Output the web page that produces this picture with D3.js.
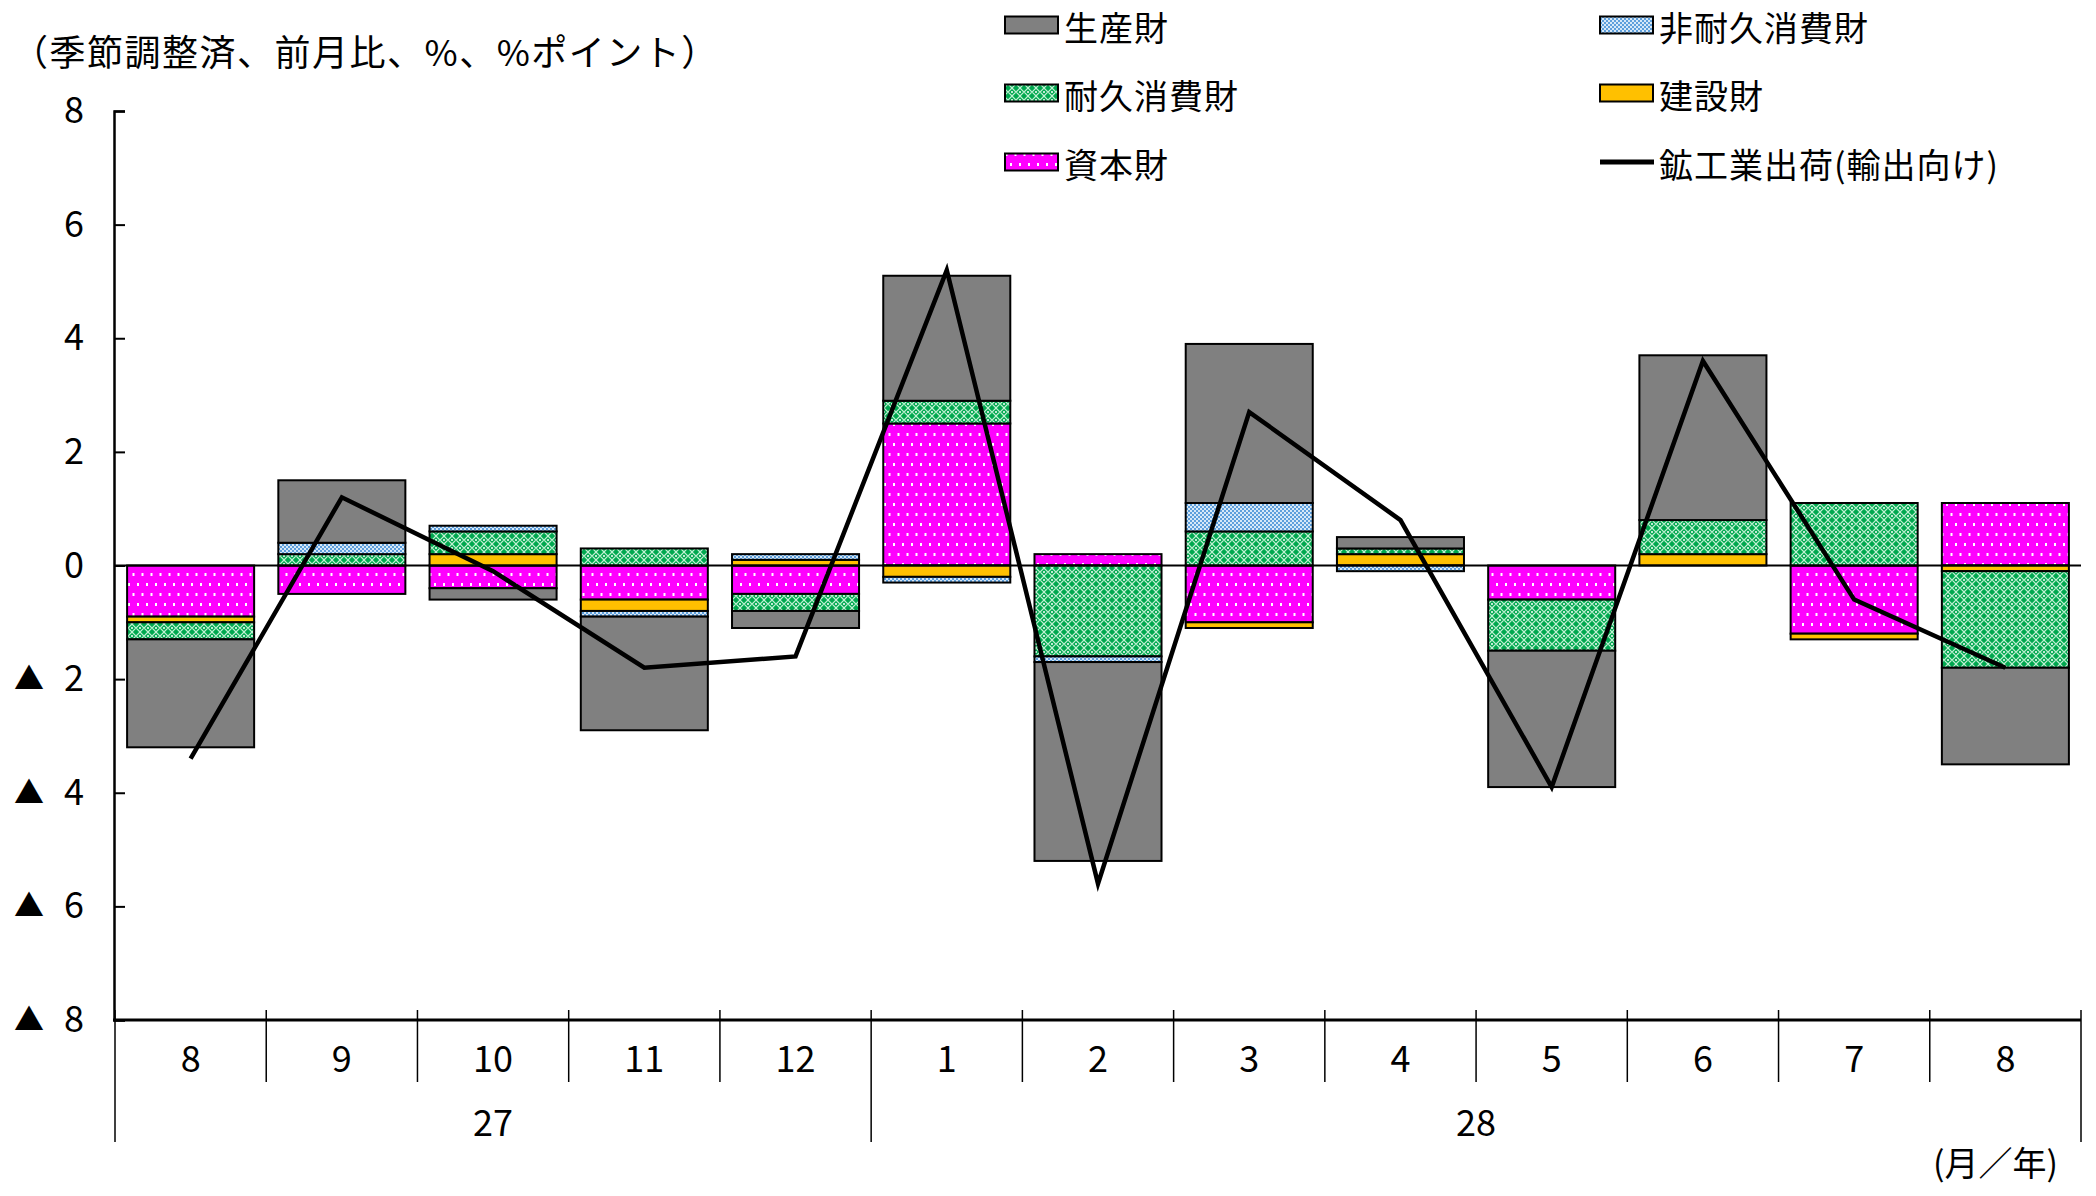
<!DOCTYPE html>
<html>
<head>
<meta charset="utf-8">
<script src="https://cdn.jsdelivr.net/npm/d3@7"></script>
<style>
  body { margin: 0; background: #fff; }
  text { font-family: "Noto Sans CJK JP", "Noto Sans", sans-serif; fill: #000; }
</style>
</head>
<body>
<div id="wrapper"></div>
<script>
// data
const months = ["8", "9", "10", "11", "12", "1", "2", "3", "4", "5", "6", "7", "8"]
const years = [
  { label: "27", from: 0, to: 5 },
  { label: "28", from: 5, to: 13 },
]
const capital      = [-0.9, -0.5, -0.4, -0.6, -0.5, 2.5, 0.2, -1.0, 0, -0.6, 0, -1.2, 1.1]
const construction = [-0.1, 0, 0.2, -0.2, 0.1, -0.2, 0, -0.1, 0.2, 0, 0.2, -0.1, -0.1]
const durable      = [-0.3, 0.2, 0.4, 0.3, -0.3, 0.4, -1.6, 0.6, 0.1, -0.9, 0.6, 1.1, -1.7]
const nondurable   = [0, 0.2, 0.1, -0.1, 0.1, -0.1, -0.1, 0.5, -0.1, 0, 0, 0, 0]
const producer     = [-1.9, 1.1, -0.2, -2.0, -0.3, 2.2, -3.5, 2.8, 0.2, -2.4, 2.9, 0, -1.7]
const exportsLine  = [-3.4, 1.2, -0.1, -1.8, -1.6, 5.2, -5.6, 2.7, 0.8, -3.9, 3.6, -0.6, -1.8]
const yTicks = [-8, -6, -4, -2, 0, 2, 4, 6, 8]

// stacking order follows the original chart
const seriesKeys = ["capital", "construction", "durable", "nondurable", "producer"]
const seriesValues = { capital, construction, durable, nondurable, producer }
const seriesNames = {
  producer: "生産財",
  nondurable: "非耐久消費財",
  durable: "耐久消費財",
  construction: "建設財",
  capital: "資本財",
}
const seriesFill = {
  producer: "#808080",
  nondurable: "url(#pat-blue)",
  durable: "url(#pat-green)",
  construction: "#ffc000",
  capital: "url(#pat-magenta)",
}

const table = months.map((m, i) => {
  const row = { i }
  seriesKeys.forEach(k => row[k] = seriesValues[k][i])
  return row
})

// dimensions
const width = 2096
const height = 1196
const plot = { left: 115, right: 2081, top: 111, bottom: 1020 }

const svg = d3.select("#wrapper")
  .append("svg")
  .attr("width", width)
  .attr("height", height)

// patterns
const defs = svg.append("defs")

const pBlue = defs.append("pattern").attr("id", "pat-blue")
  .attr("patternUnits", "userSpaceOnUse").attr("width", 4).attr("height", 4)
pBlue.append("rect").attr("width", 4).attr("height", 4).attr("fill", "#5d9fdc")
pBlue.append("rect").attr("x", 0).attr("y", 0).attr("width", 2).attr("height", 2).attr("fill", "#d6e8f8")
pBlue.append("rect").attr("x", 2).attr("y", 2).attr("width", 2).attr("height", 2).attr("fill", "#d6e8f8")

const pGreen = defs.append("pattern").attr("id", "pat-green")
  .attr("patternUnits", "userSpaceOnUse").attr("width", 8).attr("height", 8)
pGreen.append("rect").attr("width", 8).attr("height", 8).attr("fill", "#00a84f")
pGreen.append("path").attr("d", "M0,4 L4,0 L8,4 L4,8 Z").attr("fill", "none")
  .attr("stroke", "#bff0d2").attr("stroke-width", 1.2)
pGreen.append("circle").attr("cx", 4).attr("cy", 4).attr("r", 1).attr("fill", "#ffffff")

const pMag = defs.append("pattern").attr("id", "pat-magenta")
  .attr("patternUnits", "userSpaceOnUse").attr("width", 9).attr("height", 20)
pMag.append("rect").attr("width", 9).attr("height", 20).attr("fill", "#ff00ff")
pMag.append("rect").attr("x", 2).attr("y", 3).attr("width", 2).attr("height", 3).attr("fill", "#ffffff")
pMag.append("rect").attr("x", 6.5).attr("y", 13).attr("width", 2).attr("height", 3).attr("fill", "#ffffff")

// scales
const xScale = d3.scaleBand()
  .domain(d3.range(months.length))
  .range([plot.left, plot.right])
  .paddingInner(0.16)
  .paddingOuter(0.08)

const yScale = d3.scaleLinear()
  .domain([-8, 8])
  .range([plot.bottom, plot.top])

const step = xScale.step()
const boundary = k => plot.left + k * step

// stacked bars
const stack = d3.stack()
  .keys(seriesKeys)
  .offset(d3.stackOffsetDiverging)
const stacked = stack(table)

const bars = svg.append("g")
stacked.forEach(layer => {
  bars.append("g")
    .selectAll("rect")
    .data(layer.filter(d => d[1] - d[0] !== 0))
    .join("rect")
    .attr("x", d => xScale(d.data.i))
    .attr("width", xScale.bandwidth())
    .attr("y", d => yScale(Math.max(d[0], d[1])))
    .attr("height", d => Math.abs(yScale(d[0]) - yScale(d[1])))
    .attr("fill", seriesFill[layer.key])
    .attr("stroke", "#000")
    .attr("stroke-width", 2)
})

// zero line
svg.append("line")
  .attr("x1", plot.left).attr("x2", plot.right)
  .attr("y1", yScale(0)).attr("y2", yScale(0))
  .attr("stroke", "#000").attr("stroke-width", 2)

// line series
const lineGenerator = d3.line()
  .x((d, i) => xScale(i) + xScale.bandwidth() / 2)
  .y(d => yScale(d))

svg.append("path")
  .attr("d", lineGenerator(exportsLine))
  .attr("fill", "none")
  .attr("stroke", "#000")
  .attr("stroke-width", 4.5)
  .attr("stroke-linejoin", "miter")

// y axis
const yAxis = svg.append("g")
  .attr("transform", `translate(${plot.left - 1},0)`)
  .call(d3.axisLeft(yScale).tickValues(yTicks).tickSize(-11).tickPadding(30).tickFormat(d => Math.abs(d)))
yAxis.select(".domain").attr("stroke-width", 2.5)
yAxis.selectAll(".tick line").attr("stroke-width", 2)
yAxis.selectAll(".tick text")
  .attr("font-size", 36)
  .attr("font-family", "Noto Sans CJK JP")
yAxis.selectAll(".tick")
  .filter(d => d < 0)
  .append("text")
  .attr("x", -85)
  .attr("dy", "0.32em")
  .attr("text-anchor", "middle")
  .attr("font-size", 30)
  .attr("font-family", "DejaVu Sans")
  .attr("fill", "#000")
  .text("▲")

// x axis
const xAxis = svg.append("g")
  .attr("transform", `translate(0,${plot.bottom})`)
  .call(d3.axisBottom(xScale).tickSize(0).tickPadding(26).tickFormat(i => months[i]))
xAxis.select(".domain").remove()
xAxis.selectAll(".tick text")
  .attr("font-size", 36)
  .attr("font-family", "Noto Sans CJK JP")

svg.append("line")
  .attr("x1", plot.left - 2).attr("x2", plot.right)
  .attr("y1", plot.bottom).attr("y2", plot.bottom)
  .attr("stroke", "#000").attr("stroke-width", 3)

const yearEdges = new Set(years.flatMap(y => [y.from, y.to]))
svg.append("g")
  .selectAll("line")
  .data(d3.range(months.length + 1))
  .join("line")
  .attr("x1", k => boundary(k)).attr("x2", k => boundary(k))
  .attr("y1", plot.bottom - 10)
  .attr("y2", k => yearEdges.has(k) ? plot.bottom + 122 : plot.bottom + 62)
  .attr("stroke", "#000")
  .attr("stroke-width", 1.5)

svg.append("g")
  .selectAll("text")
  .data(years)
  .join("text")
  .attr("x", d => (boundary(d.from) + boundary(d.to)) / 2)
  .attr("y", plot.bottom + 116)
  .attr("text-anchor", "middle")
  .attr("font-size", 36)
  .text(d => d.label)

svg.append("text")
  .attr("x", 2058)
  .attr("y", 1176)
  .attr("text-anchor", "end")
  .attr("font-size", 34)
  .text("(月／年)")

// title
svg.append("text")
  .attr("x", 12)
  .attr("y", 66)
  .attr("font-size", 36)
  .attr("letter-spacing", 1.5)
  .text("（季節調整済、前月比、%、%ポイント）")

// legend
const legendItems = [
  { key: "producer", col: 0, row: 0 },
  { key: "nondurable", col: 1, row: 0 },
  { key: "durable", col: 0, row: 1 },
  { key: "construction", col: 1, row: 1 },
  { key: "capital", col: 0, row: 2 },
  { key: "line", col: 1, row: 2 },
]
const legendX = [1005, 1600]
const legendY = [25, 93, 162]

const legend = svg.append("g")
legendItems.forEach(item => {
  const x = legendX[item.col]
  const y = legendY[item.row]
  if (item.key === "line") {
    legend.append("line")
      .attr("x1", x).attr("x2", x + 54)
      .attr("y1", y).attr("y2", y)
      .attr("stroke", "#000").attr("stroke-width", 5)
  } else {
    legend.append("rect")
      .attr("x", x).attr("y", y - 8.5)
      .attr("width", 53).attr("height", 17)
      .attr("fill", seriesFill[item.key])
      .attr("stroke", "#000").attr("stroke-width", 2)
  }
  legend.append("text")
    .attr("x", x + 59)
    .attr("y", y + 16)
    .attr("font-size", 34)
    .attr("letter-spacing", 1)
    .text(item.key === "line" ? "鉱工業出荷(輸出向け)" : seriesNames[item.key])
})
</script>
</body>
</html>
